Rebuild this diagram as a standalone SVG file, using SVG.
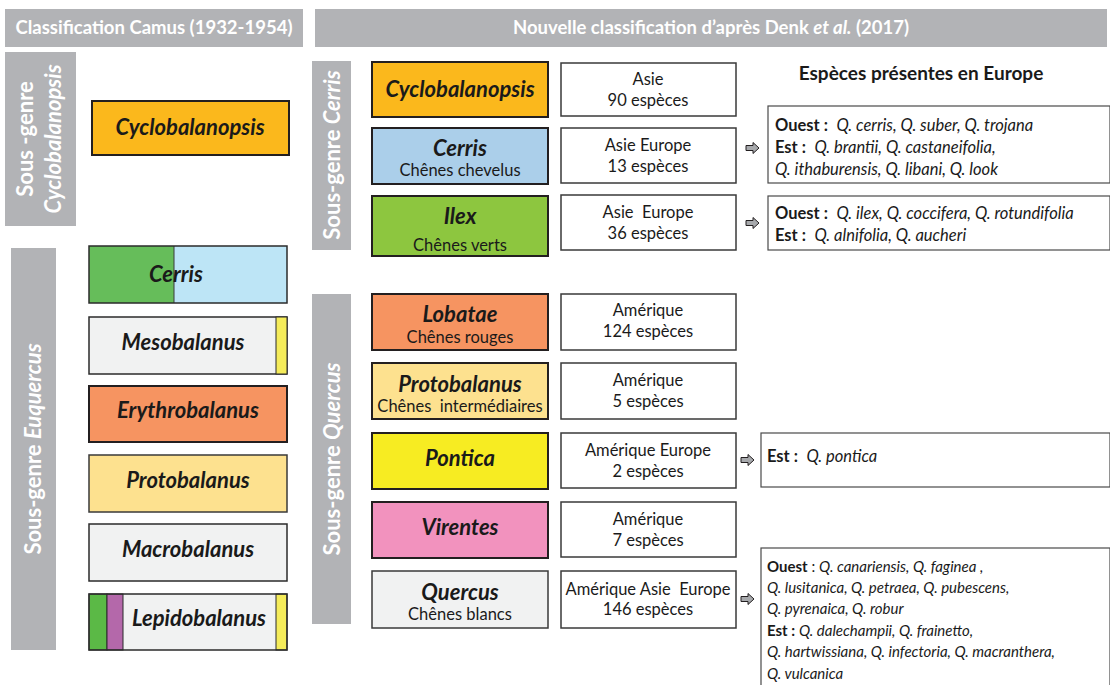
<svg xmlns="http://www.w3.org/2000/svg" width="1110" height="685" viewBox="0 0 1110 685" xml:space="preserve">
<defs>
<style>
text{font-family:Lato,"Open Sans","Liberation Sans",sans-serif;fill:#1a1a1a;white-space:pre}
.hdr{fill:#b2b3b6}
.ht{fill:#fff;font-size:18.5px;font-weight:bold;text-anchor:middle}
.sg{fill:#fff;font-size:22px;font-weight:bold;text-anchor:middle}
.nb{stroke:#231f20;stroke-width:2}
.nm{font-size:22px;font-weight:bold;font-style:italic;text-anchor:middle}
.sub{font-size:16.5px;text-anchor:middle}
.vb{fill:#fff;stroke:#3a3a3a;stroke-width:1.5}
.vt{font-size:16.5px;text-anchor:middle}
.sb{fill:#fff;stroke:#4a4a4a;stroke-width:1.2}
.st{font-size:16.5px}
.st2{font-size:15px}
tspan.i{font-style:italic}
tspan.b{font-weight:bold}
.arr{fill:#a7a9ac;stroke:#231f20;stroke-width:1}
</style>
</defs>

<g id="headers">
<rect class="hdr" x="5" y="9" width="298" height="38"/>
<text class="ht" x="154" y="34">Classification Camus (1932-1954)</text>
<rect class="hdr" x="315" y="9" width="792" height="38"/>
<text class="ht" x="711" y="34">Nouvelle classification d’après Denk <tspan font-style="italic">et al.</tspan> (2017)</text>
<text x="921" y="80" font-size="19" font-weight="bold" text-anchor="middle">Espèces présentes en Europe</text>
</g>

<g id="sg-cyclobalanopsis">
<rect class="hdr" x="5" y="52" width="71" height="174"/>
<text class="sg" transform="translate(33,139) rotate(-90)">Sous -genre</text>
<text class="sg" transform="translate(61,139) rotate(-90)" font-style="italic">Cyclobalanopsis</text>
</g>
<g id="sg-euquercus">
<rect class="hdr" x="11" y="248" width="45" height="402"/>
<text class="sg" transform="translate(41,449) rotate(-90)">Sous-genre <tspan font-style="italic">Euquercus</tspan></text>
</g>
<g id="sg-cerris">
<rect class="hdr" x="312" y="61" width="39" height="189"/>
<text class="sg" transform="translate(340,155) rotate(-90)">Sous-genre <tspan font-style="italic">Cerris</tspan></text>
</g>
<g id="sg-quercus">
<rect class="hdr" x="312" y="294" width="39" height="330"/>
<text class="sg" transform="translate(340,459) rotate(-90)">Sous-genre <tspan font-style="italic">Quercus</tspan></text>
</g>

<!-- Left column (Camus) -->
<g id="l-cyclobalanopsis">
<rect class="nb" x="92" y="101" width="197" height="54" fill="#fbb81c"/>
<text class="nm" x="190" y="135">Cyclobalanopsis</text>
</g>
<g id="l-cerris">
<rect x="89" y="246" width="85" height="57" fill="#66bd5a"/>
<rect x="174" y="246" width="113" height="57" fill="#bde5f6"/>
<line x1="174" y1="246" x2="174" y2="303" stroke="#3a3a3a" stroke-width="1"/>
<rect x="89" y="246" width="198" height="57" fill="none" stroke="#2b2b2b" stroke-width="1.5"/>
<text class="nm" x="176" y="282">Cerris</text>
</g>
<g id="l-mesobalanus">
<rect x="89" y="317" width="198" height="57" fill="#f1f2f2" stroke="#2b2b2b" stroke-width="1.5"/>
<rect x="276" y="317" width="11" height="57" fill="#f5ec5a" stroke="#2b2b2b" stroke-width="1"/>
<text class="nm" x="183" y="350">Mesobalanus</text>
</g>
<g id="l-erythrobalanus">
<rect class="nb" x="89" y="386" width="198" height="56" fill="#f69461" stroke="#3b1a10"/>
<text class="nm" x="188" y="418">Erythrobalanus</text>
</g>
<g id="l-protobalanus">
<rect x="89" y="455" width="198" height="57" fill="#fde18f" stroke="#3a3a3a" stroke-width="1.5"/>
<text class="nm" x="188" y="488">Protobalanus</text>
</g>
<g id="l-macrobalanus">
<rect x="89" y="524" width="198" height="57" fill="#f1f2f2" stroke="#2b2b2b" stroke-width="1.5"/>
<text class="nm" x="188" y="557">Macrobalanus</text>
</g>
<g id="l-lepidobalanus">
<rect x="89" y="594" width="198" height="56" fill="#f1f2f2"/>
<rect x="89" y="594" width="18" height="56" fill="#5bb946" stroke="#2b2b2b" stroke-width="1"/>
<rect x="107" y="594" width="16" height="56" fill="#b468aa" stroke="#2b2b2b" stroke-width="1"/>
<rect x="276" y="594" width="11" height="56" fill="#f5ec5a" stroke="#2b2b2b" stroke-width="1"/>
<rect x="89" y="594" width="198" height="56" fill="none" stroke="#2b2b2b" stroke-width="1.5"/>
<text class="nm" x="199" y="626">Lepidobalanus</text>
</g>

<!-- Right column (Denk) -->
<g id="r-cyclobalanopsis">
<rect class="nb" x="372" y="62" width="176" height="55" fill="#fbb81c"/>
<text class="nm" x="460" y="97">Cyclobalanopsis</text>
<rect class="vb" x="561" y="63" width="175" height="53"/>
<text class="vt" x="648" y="85">Asie</text>
<text class="vt" x="648" y="106">90 espèces</text>
</g>
<g id="r-cerris">
<rect class="nb" x="372" y="128" width="176" height="56" fill="#abcfea"/>
<text class="nm" x="460" y="156">Cerris</text>
<text class="sub" x="460" y="176">Chênes chevelus</text>
<rect class="vb" x="561" y="128" width="175" height="55"/>
<text class="vt" x="648" y="151">Asie Europe</text>
<text class="vt" x="648" y="172">13 espèces</text>
<rect class="sb" x="768" y="106" width="342" height="77"/>
<text class="st" x="775" y="131"><tspan class="b">Ouest :</tspan>  <tspan class="i">Q. cerris, Q. suber, Q. trojana</tspan></text>
<text class="st" x="775" y="153"><tspan class="b">Est :</tspan>  <tspan class="i">Q. brantii, Q. castaneifolia,</tspan></text>
<text class="st" x="775" y="175"><tspan class="i">Q. ithaburensis, Q. libani, Q. look</tspan></text>
</g>
<g id="r-ilex">
<rect class="nb" x="372" y="196" width="176" height="60" fill="#8dc63f"/>
<text class="nm" x="460" y="224">Ilex</text>
<text class="sub" x="460" y="251">Chênes verts</text>
<rect class="vb" x="561" y="195" width="175" height="55"/>
<text class="vt" x="648" y="218">Asie  Europe</text>
<text class="vt" x="648" y="239">36 espèces</text>
<rect class="sb" x="768" y="196" width="342" height="54"/>
<text class="st" x="775" y="219"><tspan class="b">Ouest :</tspan>  <tspan class="i">Q. ilex, Q. coccifera, Q. rotundifolia</tspan></text>
<text class="st" x="775" y="241"><tspan class="b">Est :</tspan>  <tspan class="i">Q. alnifolia, Q. aucheri</tspan></text>
</g>
<g id="r-lobatae">
<rect class="nb" x="372" y="294" width="176" height="56" fill="#f69461" stroke="#3b1a10"/>
<text class="nm" x="460" y="322">Lobatae</text>
<text class="sub" x="460" y="343">Chênes rouges</text>
<rect class="vb" x="561" y="294" width="175" height="56"/>
<text class="vt" x="648" y="316">Amérique</text>
<text class="vt" x="648" y="337">124 espèces</text>
</g>
<g id="r-protobalanus">
<rect class="nb" x="372" y="363" width="176" height="56" fill="#fde18f"/>
<text class="nm" x="460" y="392">Protobalanus</text>
<text class="sub" x="460" y="412">Chênes  intermédiaires</text>
<rect class="vb" x="561" y="363" width="175" height="56"/>
<text class="vt" x="648" y="386">Amérique</text>
<text class="vt" x="648" y="407">5 espèces</text>
</g>
<g id="r-pontica">
<rect class="nb" x="372" y="433" width="176" height="56" fill="#f7ec22"/>
<text class="nm" x="460" y="466">Pontica</text>
<rect class="vb" x="561" y="433" width="175" height="55"/>
<text class="vt" x="648" y="456">Amérique Europe</text>
<text class="vt" x="648" y="477">2 espèces</text>
<rect class="sb" x="761" y="433" width="349" height="54"/>
<text class="st" x="767" y="462"><tspan class="b">Est :</tspan>  <tspan class="i">Q. pontica</tspan></text>
</g>
<g id="r-virentes">
<rect class="nb" x="372" y="502" width="176" height="56" fill="#f292be" stroke="#3b1a20"/>
<text class="nm" x="460" y="535">Virentes</text>
<rect class="vb" x="561" y="502" width="175" height="55"/>
<text class="vt" x="648" y="525">Amérique</text>
<text class="vt" x="648" y="546">7 espèces</text>
</g>
<g id="r-quercus">
<rect x="372" y="571" width="176" height="57" fill="#f1f2f2" stroke="#3a3a3a" stroke-width="1.5"/>
<text class="nm" x="460" y="600">Quercus</text>
<text class="sub" x="460" y="620">Chênes blancs</text>
<rect class="vb" x="561" y="571" width="175" height="57"/>
<text class="vt" x="648" y="595">Amérique Asie  Europe</text>
<text class="vt" x="648" y="615">146 espèces</text>
<rect class="sb" x="761" y="548" width="349" height="140"/>
<text class="st2" x="767" y="572"><tspan class="b">Ouest</tspan> : <tspan class="i">Q. canariensis, Q. faginea ,</tspan></text>
<text class="st2" x="767" y="593"><tspan class="i">Q. lusitanica, Q. petraea, Q. pubescens,</tspan></text>
<text class="st2" x="767" y="614"><tspan class="i">Q. pyrenaica, Q. robur</tspan></text>
<text class="st2" x="767" y="636"><tspan class="b">Est :</tspan> <tspan class="i">Q. dalechampii, Q. frainetto,</tspan></text>
<text class="st2" x="767" y="657"><tspan class="i">Q. hartwissiana, Q. infectoria, Q. macranthera,</tspan></text>
<text class="st2" x="767" y="679"><tspan class="i">Q. vulcanica</tspan></text>
</g>

<g id="connectors">
<polygon class="arr" points="746,145.5 753,145.5 753,142.5 759,148 753,153.5 753,150.5 746,150.5"/>
<polygon class="arr" points="746,220.5 753,220.5 753,217.5 759,223 753,228.5 753,225.5 746,225.5"/>
<polygon class="arr" points="741,457.5 748,457.5 748,454.5 754,460 748,465.5 748,462.5 741,462.5"/>
<polygon class="arr" points="741,596.5 748,596.5 748,593.5 754,599 748,604.5 748,601.5 741,601.5"/>
</g>
</svg>
